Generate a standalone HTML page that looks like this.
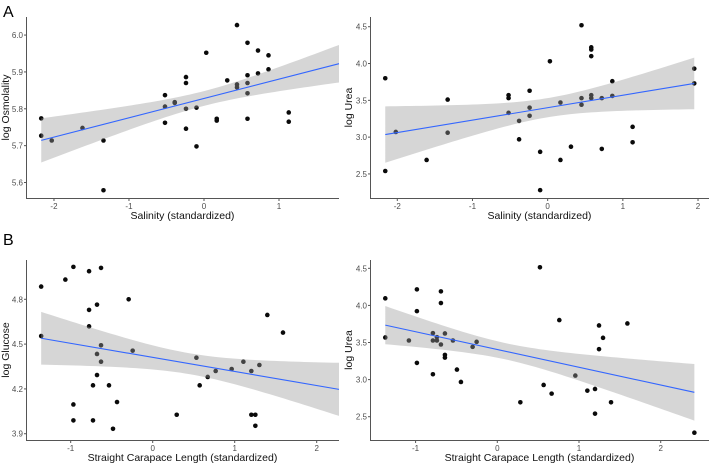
<!DOCTYPE html>
<html><head><meta charset="utf-8">
<style>
html,body{margin:0;padding:0;background:#fff;}
svg{display:block;font-family:"Liberation Sans",Arial,sans-serif;}
.tick{font-size:8px;fill:#4d4d4d;}
.atitle{font-size:10.5px;fill:#111;}
</style></head>
<body>
<svg id="fig" width="711" height="465" viewBox="0 0 711 465">
<text x="3" y="17" font-size="16" fill="#000">A</text>
<text x="3" y="245" font-size="16" fill="#000">B</text>
</svg>
<script>
// Panel 1: log Osmolality vs Salinity
const p1x = [-2.17,-2.17,-2.03,-1.62,-1.34,-1.34,-0.52,-0.52,-0.52,-0.39,-0.39,-0.24,-0.24,-0.24,-0.24,-0.10,-0.10,0.03,0.17,0.17,0.31,0.44,0.44,0.44,0.58,0.58,0.58,0.58,0.58,0.72,0.72,0.86,0.86,1.13,1.13];
const p1y = [5.774,5.727,5.714,5.748,5.714,5.579,5.837,5.806,5.762,5.818,5.816,5.886,5.870,5.800,5.746,5.803,5.698,5.952,5.773,5.768,5.877,6.027,5.866,5.858,5.979,5.891,5.870,5.842,5.773,5.958,5.896,5.945,5.907,5.790,5.765];
const p1xTicks = [-2,-1,0,1];
const p1yTicks = [5.6,5.7,5.8,5.9,6.0];
const p1yTickLabels = ["5.6","5.7","5.8","5.9","6.0"];
const p1Fit = [5.828, 0.0524];      // intercept, slope
const p1Band = [0.02, 0.026, 0.0];  // min half-width, spread, centre
// Panel 2: log Urea vs Salinity
const p2x = [-2.16,-2.16,-2.02,-1.61,-1.33,-1.33,-0.52,-0.52,-0.52,-0.38,-0.38,-0.24,-0.24,-0.24,-0.10,-0.10,0.03,0.17,0.17,0.31,0.45,0.45,0.45,0.58,0.58,0.58,0.58,0.58,0.72,0.72,0.86,0.86,1.13,1.13,1.95,1.95];
const p2y = [3.80,2.54,3.07,2.69,3.51,3.06,3.57,3.53,3.33,3.22,2.97,3.63,3.40,3.29,2.80,2.28,4.03,3.47,2.69,2.87,4.52,3.53,3.44,4.22,4.19,4.10,3.57,3.53,3.53,2.84,3.76,3.56,3.14,2.93,3.93,3.73];
const p2xTicks = [-2,-1,0,1,2];
const p2yTicks = [2.5,3.0,3.5,4.0,4.5];
const p2yTickLabels = ["2.5","3.0","3.5","4.0","4.5"];
const p2Fit = [3.40, 0.169];
const p2Band = [0.13, 0.167, 0.0];
// Panel 3: log Glucose vs SCL
const p3x = [-1.36,-1.36,-1.065,-0.967,-0.967,-0.967,-0.776,-0.776,-0.776,-0.728,-0.728,-0.679,-0.679,-0.679,-0.630,-0.630,-0.630,-0.533,-0.484,-0.435,-0.293,-0.244,0.293,0.533,0.573,0.671,0.768,0.963,1.106,1.203,1.203,1.252,1.252,1.301,1.398,1.589];
const p3y = [4.885,4.554,4.932,5.017,4.096,3.989,4.988,4.729,4.619,4.224,3.989,4.764,4.434,4.293,5.010,4.492,4.382,4.224,3.933,4.112,4.800,4.456,4.027,4.409,4.224,4.280,4.320,4.333,4.382,4.320,4.027,4.027,3.953,4.360,4.695,4.577];
const p3xTicks = [-1,0,1,2];
const p3yTicks = [3.9,4.2,4.5,4.8];
const p3yTickLabels = ["3.9","4.2","4.5","4.8"];
const p3Fit = [4.411, -0.0942];
const p3Band = [0.07, 0.0897, 0.45];
// Panel 4: log Urea vs SCL
const p4x = [-1.371,-1.371,-1.082,-0.984,-0.984,-0.984,-0.788,-0.788,-0.788,-0.739,-0.739,-0.690,-0.690,-0.690,-0.641,-0.641,-0.641,-0.543,-0.494,-0.445,-0.302,-0.253,0.282,0.522,0.567,0.665,0.759,0.955,1.102,1.196,1.196,1.245,1.245,1.294,1.392,1.592,2.412];
const p4y = [4.095,3.568,3.527,4.216,3.923,3.225,3.626,3.527,3.072,3.572,3.527,4.189,4.032,3.473,3.622,3.333,3.297,3.527,3.135,2.968,3.441,3.509,2.694,4.514,2.928,2.811,3.802,3.054,2.851,2.874,2.541,3.730,3.410,3.563,2.694,3.757,2.284];
const p4xTicks = [-1,0,1,2];
const p4yTicks = [2.5,3.0,3.5,4.0,4.5];
const p4yTickLabels = ["2.5","3.0","3.5","4.0","4.5"];
const p4Fit = [3.406, -0.2394];
const p4Band = [0.11, 0.158, 0.1];

const NS = "http://www.w3.org/2000/svg";
const svg = document.getElementById('fig');
function mk(tag, attrs, parent){
  const e = document.createElementNS(NS, tag);
  for (const k in attrs) e.setAttribute(k, attrs[k]);
  (parent||svg).appendChild(e);
  return e;
}
const panels = [
  {id:'osmolality-salinity', xs:p1x, ys:p1y, xt:p1xTicks, yt:p1yTicks, ytl:p1yTickLabels, fitp:p1Fit, band:p1Band, px:[26,339], py:[17,198], dx:[-2.373,1.80], dy:[6.049,5.558], xl:'Salinity (standardized)', yl:'log Osmolality', ylx:9},
  {id:'urea-salinity', xs:p2x, ys:p2y, xt:p2xTicks, yt:p2yTicks, ytl:p2yTickLabels, fitp:p2Fit, band:p2Band, px:[370,709], py:[17,198], dx:[-2.363,2.146], dy:[4.632,2.173], xl:'Salinity (standardized)', yl:'log Urea', ylx:352},
  {id:'glucose-scl', xs:p3x, ys:p3y, xt:p3xTicks, yt:p3yTicks, ytl:p3yTickLabels, fitp:p3Fit, band:p3Band, px:[26,339], py:[260,440], dx:[-1.545,2.272], dy:[5.063,3.858], xl:'Straight Carapace Length (standardized)', yl:'log Glucose', ylx:9},
  {id:'urea-scl', xs:p4x, ys:p4y, xt:p4xTicks, yt:p4yTicks, ytl:p4yTickLabels, fitp:p4Fit, band:p4Band, px:[370,709], py:[260,440], dx:[-1.558,2.591], dy:[4.612,2.186], xl:'Straight Carapace Length (standardized)', yl:'log Urea', ylx:352}
];
panels.forEach(P => {
  const g = mk('g', {});
  
  
  const sx = v => P.px[0] + (v - P.dx[0]) / (P.dx[1] - P.dx[0]) * (P.px[1] - P.px[0]);
  const sy = v => P.py[0] + (v - P.dy[0]) / (P.dy[1] - P.dy[0]) * (P.py[1] - P.py[0]);
  const n = P.xs.length;
  const xmin = Math.min(...P.xs);
  const xmax = Math.min(Math.max(...P.xs), P.dx[1]) ;
  const fitHi = Math.max(Math.max(...P.xs), P.dx[1] - 0.0) > P.dx[1] ? P.dx[1] : Math.max(...P.xs);
  // fit spans from min x to max x, or to axis end when axis end is smaller / fullrange
  const f0 = xmin, f1 = (P.id==='osmolality-salinity'||P.id==='glucose-scl') ? P.dx[1] : Math.max(...P.xs);
  const a = P.fitp[0], b = P.fitp[1];
  const hw = x => Math.sqrt(P.band[0]**2 + (P.band[1]*(x-P.band[2]))**2);
  for (let i=0;i<n;i++){
    const c = mk('circle', {cx:sx(P.xs[i]).toFixed(2), cy:sy(P.ys[i]).toFixed(2), r:2.3, fill:'#0a0a0a'}, g);
    
    
  }
  const N = 60, up=[], lo=[];
  for (let k=0;k<=N;k++){
    const x = f0 + (f1-f0)*k/N;
    const f = a + b*x, h = hw(x);
    up.push(sx(x).toFixed(2)+','+sy(f+h).toFixed(2));
    lo.unshift(sx(x).toFixed(2)+','+sy(f-h).toFixed(2));
  }
  const band = mk('polygon', {points: up.concat(lo).join(' '), fill:'#999999', 'fill-opacity':0.4, stroke:'none'}, g);
  
  
  const line = mk('line', {x1:sx(f0), y1:sy(a+b*f0), x2:sx(f1), y2:sy(a+b*f1), stroke:'#3366FF', 'stroke-width':1.1}, g);
  
  
  const xa = mk('line', {x1:P.px[0], y1:P.py[1]+0.5, x2:P.px[1], y2:P.py[1]+0.5, stroke:'#555', 'stroke-width':1}, g);
  
  
  const ya = mk('line', {x1:P.px[0]+0.5, y1:P.py[0], x2:P.px[0]+0.5, y2:P.py[1]+1, stroke:'#555', 'stroke-width':1}, g);
  
  
  P.xt.forEach(v => {
    const X = sx(v);
    mk('line', {x1:X, y1:P.py[1]+1, x2:X, y2:P.py[1]+3, stroke:'#555'}, g);
    const tx = mk('text', {x:X, y:P.py[1]+11, 'text-anchor':'middle', class:'tick'}, g);
    tx.textContent = String(v);
    
    
  });
  P.yt.forEach((v,i) => {
    const Y = sy(v);
    mk('line', {x1:P.px[0]-2, y1:Y, x2:P.px[0], y2:Y, stroke:'#555'}, g);
    const ty = mk('text', {x:P.px[0]-3, y:Y+3, 'text-anchor':'end', class:'tick'}, g);
    ty.textContent = P.ytl[i];
    
    
  });
  const xt = mk('text', {x:(P.px[0]+P.px[1])/2, y:P.py[1]+21, 'text-anchor':'middle', class:'atitle'}, g);
  xt.textContent = P.xl;
  
  
  const ymid = (P.py[0]+P.py[1])/2;
  const yt = mk('text', {x:P.ylx, y:ymid, 'text-anchor':'middle', class:'atitle', transform:'rotate(-90 '+P.ylx+' '+ymid+')'}, g);
  yt.textContent = P.yl;
  
  
});
</script>
</body></html>
